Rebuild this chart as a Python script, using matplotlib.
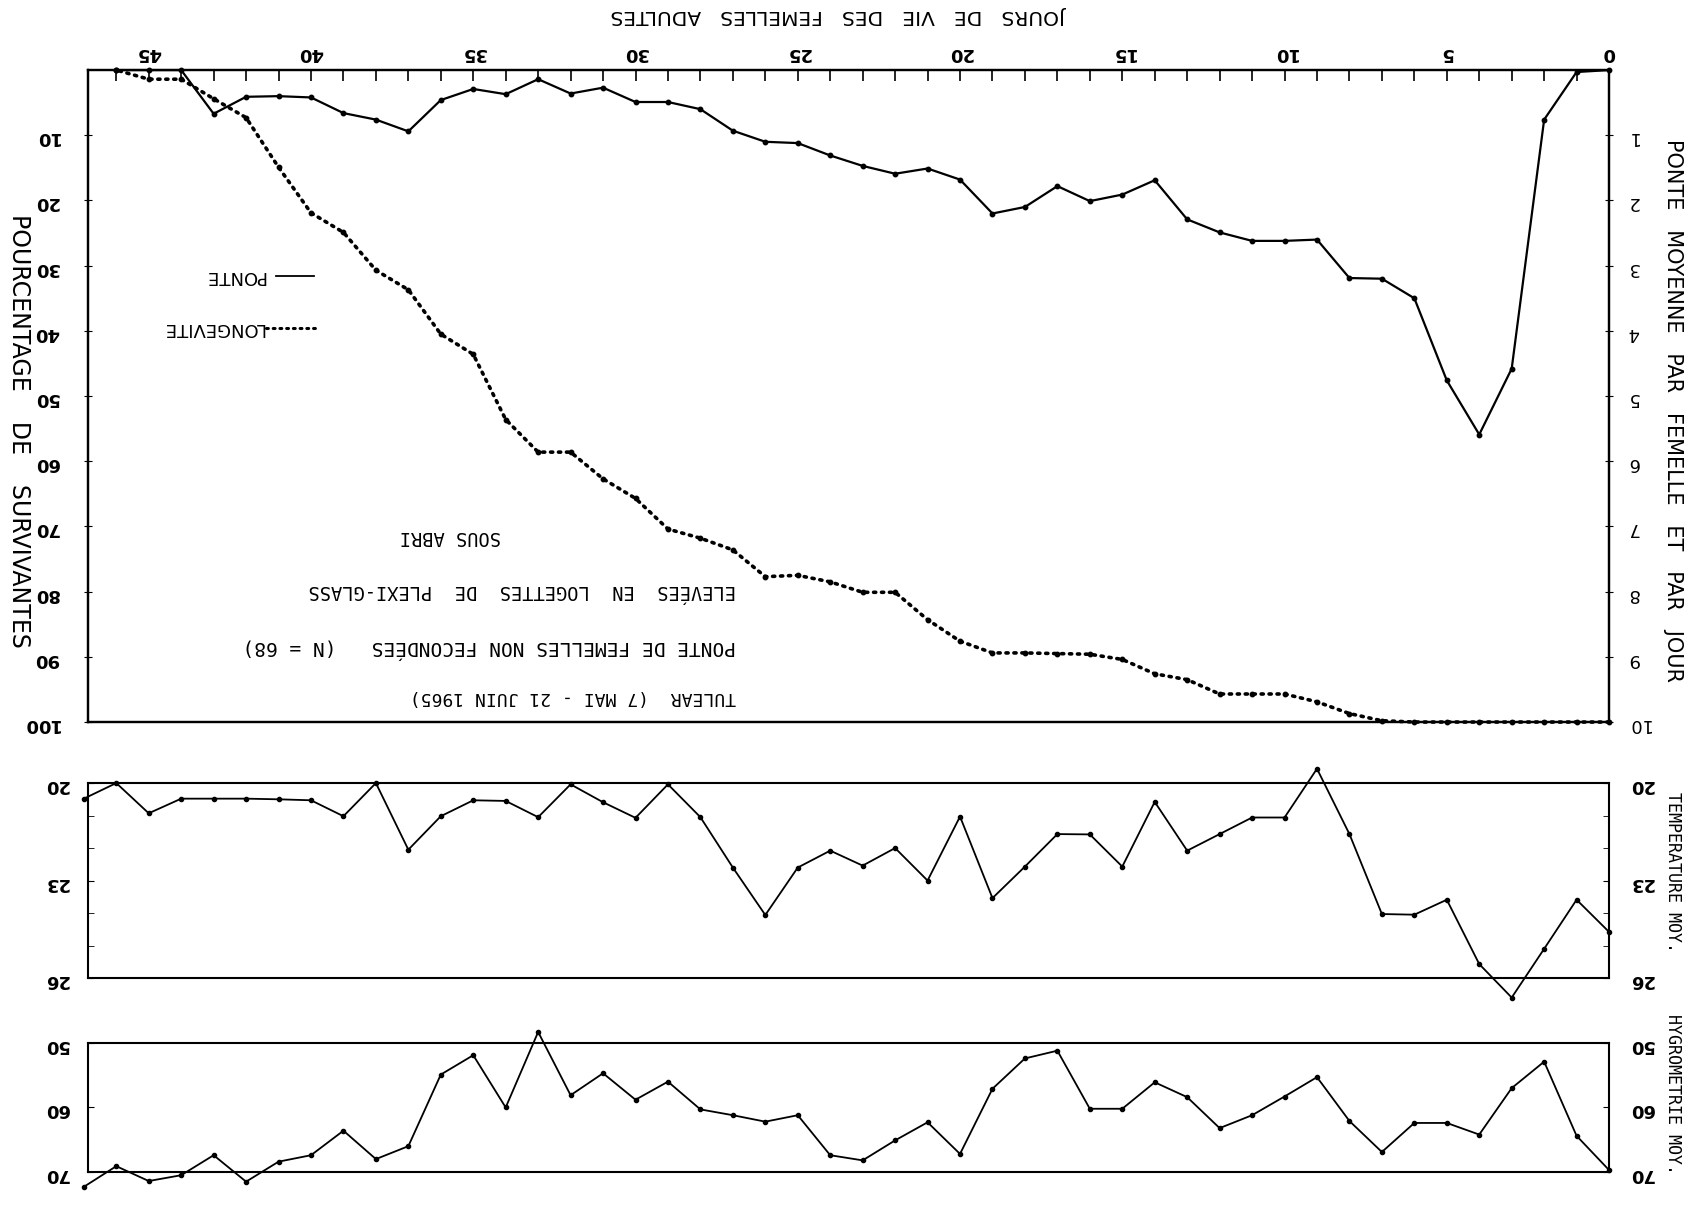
import numpy as np
import matplotlib
matplotlib.use("Agg")
import matplotlib.pyplot as plt

# jours de vie (0 a 46 pour ponte / longevite, 0 a 47 pour le climat)
days_main = np.arange(0, 47)
days_clim = np.arange(0, 48)

ponte = [0, 0.03, 0.76, 4.58, 5.59, 4.76, 3.5, 3.2, 3.19, 2.6,
         2.62, 2.62, 2.49, 2.29, 1.69, 1.91, 2.01, 1.78, 2.1, 2.2,
         1.68, 1.51, 1.59, 1.47, 1.31, 1.12, 1.1, 0.93, 0.6, 0.49,
         0.49, 0.27, 0.36, 0.14, 0.37, 0.29, 0.46, 0.94, 0.76, 0.66,
         0.42, 0.4, 0.41, 0.67, 0, 0, 0]

longevite = [100, 100, 100, 100, 100, 100, 100, 99.8, 98.7, 96.9,
             95.7, 95.7, 95.7, 93.5, 92.6, 90.4, 89.6, 89.5, 89.4, 89.4,
             87.6, 84.3, 80.1, 80.1, 78.5, 77.5, 77.7, 73.6, 71.8, 70.4,
             65.7, 62.7, 58.6, 58.6, 53.6, 43.6, 40.5, 33.7, 30.7, 24.9,
             21.9, 14.9, 7.3, 4.4, 1.4, 1.4, 0]

temperature = [24.58, 23.59, 25.1, 26.6, 25.57, 23.59, 24.05, 24.03, 21.57, 19.56,
               21.06, 21.06, 21.57, 22.08, 20.58, 22.57, 21.58, 21.57, 22.57, 23.54,
               21.03, 23.0, 22.0, 22.54, 22.08, 22.6, 24.06, 22.6, 21.05, 20.04,
               21.07, 20.59, 20.04, 21.05, 20.55, 20.53, 21.02, 22.05, 20.0, 21.02,
               20.53, 20.5, 20.48, 20.48, 20.48, 20.93, 20.0, 20.48]

hygrometrie = [69.7, 64.4, 52.9, 57.0, 64.2, 62.4, 62.4, 66.9, 62.1, 55.3,
               58.3, 61.2, 63.2, 58.4, 56.1, 60.2, 60.2, 51.2, 52.4, 57.1,
               67.2, 62.3, 65.1, 68.2, 67.4, 61.2, 62.2, 61.2, 60.3, 56.0,
               58.8, 54.7, 58.1, 48.3, 60.0, 51.9, 54.9, 66.0, 68.0, 63.6,
               67.4, 68.4, 71.5, 67.4, 70.5, 71.4, 69.1, 72.3]

day_ticks = [0, 5, 10, 15, 20, 25, 30, 35, 40, 45]
surv_ticks = [10, 20, 30, 40, 50, 60, 70, 80, 90, 100]
ponte_ticks = [1, 2, 3, 4, 5, 6, 7, 8, 9, 10]

FS = 13
XMAX = 46.87  # bord gauche du cadre (la figure est imprimee a l'envers)
DOTS = (0, (0.6, 1.6))
MONO = "DejaVu Sans Mono"

fig = plt.figure(figsize=(16.9, 12.06), dpi=100)

# ---- panneau principal : ponte + longevite ----
ax = fig.add_axes([0.0521, 0.4013, 0.9, 0.5406])
ax2 = ax.twinx()

ax.plot(days_main, ponte, color="black", lw=1.6, marker="o", ms=3.2, clip_on=False)
ax.set_xlim(XMAX, 0)
ax.set_ylim(10, 0)
ax.xaxis.tick_top()
ax.set_xticks(day_ticks)
ax.set_xticks(range(0, 47), minor=True)
ax.tick_params(axis="x", which="both", direction="in", length=8, width=1.2,
               labelsize=FS, labelrotation=180, pad=6)
for lab in ax.get_xticklabels():
    lab.set_fontweight("bold")

ax2.plot(days_main, longevite, color="black", lw=2.6, linestyle=DOTS,
         dash_capstyle="round", marker="o", ms=3.2, clip_on=False)
ax2.set_ylim(100, 0)
ax2.set_yticks(surv_ticks)
ax2.yaxis.tick_left()
ax2.tick_params(axis="y", direction="inout", length=6, labelsize=FS, labelrotation=180, pad=18)
for lab in ax2.get_yticklabels():
    lab.set_fontweight("bold")

# twinx remet les graduations de ax a gauche : on les renvoie a droite
ax.yaxis.tick_right()
ax.set_yticks(ponte_ticks)
ax.tick_params(axis="y", direction="inout", length=6, labelsize=FS, labelrotation=180, pad=10)
for s in list(ax.spines.values()) + list(ax2.spines.values()):
    s.set_linewidth(1.6)

# legende
ax.plot([41.08, 39.9], [3.16, 3.16], color="black", lw=1.3)
ax.text(41.4, 3.16, "PONTE", rotation=180, ha="right", va="center", fontsize=13)
ax.plot([41.4, 39.8], [3.95, 3.95], color="black", lw=2.2, linestyle=DOTS,
        dash_capstyle="round")
ax.text(41.45, 3.95, "LONGEVITE", rotation=180, ha="right", va="center", fontsize=13)

# textes
ax.text(34.15, 7.16, "SOUS ABRI", rotation=180, ha="right", va="center",
        fontsize=13.5, family=MONO)
ax.text(26.9, 7.99, "ELEVÉES  EN  LOGETTES  DE  PLEXI-GLASS", rotation=180, ha="right",
        va="center", fontsize=13.5, family=MONO)
ax.text(26.9, 8.86, "PONTE DE FEMELLES NON FECONDÉES   (N = 68)", rotation=180, ha="right",
        va="center", fontsize=14, family=MONO)
ax.text(26.9, 9.61, "TULEAR  (7 MAI - 21 JUIN 1965)", rotation=180, ha="right",
        va="center", fontsize=13, family=MONO)

fig.text(0.497, 0.987, "JOURS   DE   VIE   DES   FEMELLES   ADULTES", rotation=180,
         ha="center", va="center", fontsize=14.5)
fig.text(0.011, 0.643, "POURCENTAGE    DE    SURVIVANTES", rotation=270,
         ha="center", va="center", fontsize=17)
fig.text(0.99, 0.66, "PONTE   MOYENNE   PAR   FEMELLE   ET   PAR   JOUR", rotation=270,
         ha="center", va="center", fontsize=15)

# ---- temperature ----
axt = fig.add_axes([0.0521, 0.189, 0.9, 0.1617])
axt.plot(days_clim, temperature, color="black", lw=1.3, marker="o", ms=3, clip_on=False)
axt.set_xlim(XMAX, 0)
axt.set_ylim(26, 20)
axt.set_xticks([])
axt.set_yticks([20, 23, 26])
axt.set_yticks([21, 22, 24, 25], minor=True)
axt.tick_params(axis="y", which="both", direction="in", length=4, labelsize=FS,
                labelrotation=180, left=True, right=True, labelleft=True, labelright=True, pad=14)
for lab in axt.get_yticklabels():
    lab.set_fontweight("bold")
for s in axt.spines.values():
    s.set_linewidth(1.5)
fig.text(0.99, 0.277, "TEMPERATURE MOY.", rotation=270, ha="center", va="center",
         fontsize=12, family=MONO)

# ---- hygrometrie ----
axh = fig.add_axes([0.0521, 0.0282, 0.9, 0.107])
axh.plot(days_clim, hygrometrie, color="black", lw=1.3, marker="o", ms=3, clip_on=False)
axh.set_xlim(XMAX, 0)
axh.set_ylim(70, 50)
axh.set_xticks([])
axh.set_yticks([50, 60, 70])
axh.tick_params(axis="y", direction="in", length=4, labelsize=FS, labelrotation=180,
                left=True, right=True, labelleft=True, labelright=True, pad=14)
for lab in axh.get_yticklabels():
    lab.set_fontweight("bold")
for s in axh.spines.values():
    s.set_linewidth(1.5)
fig.text(0.99, 0.093, "HYGROMETRIE MOY.", rotation=270, ha="center", va="center",
         fontsize=12, family=MONO)

fig.savefig("out.png", dpi=100)
